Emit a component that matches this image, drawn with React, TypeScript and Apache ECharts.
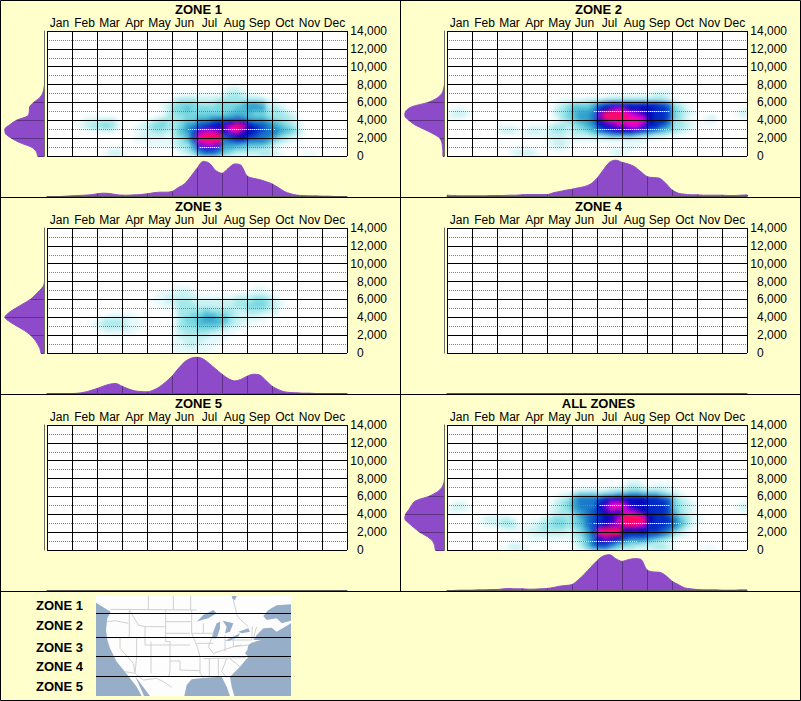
import React, { useEffect, useRef } from "react";
import * as echarts from "echarts";

const months = ["Jan", "Feb", "Mar", "Apr", "May", "Jun", "Jul", "Aug", "Sep", "Oct", "Nov", "Dec"];

// Density: one string per 500 ft row (8000 ft at the top, 0 at the bottom),
// four cells per month per group, hex level 0..f.
const zone1Heat = [
  "0000 0000 0000 0000 0000 0000 0000 0110 0000 0000 0000 0000",
  "0000 0000 0000 0000 0000 0000 0000 1221 0000 0000 0000 0000",
  "0000 0000 0000 0000 0000 0111 1111 2332 1100 0000 0000 0000",
  "0000 0000 0000 0000 0000 2333 2223 3333 3331 1000 0000 0000",
  "0000 0000 0000 0000 0012 3444 3334 4445 6652 2100 0000 0000",
  "0000 0000 0000 0000 0012 4454 4444 4455 6663 3210 0000 0000",
  "0000 0000 0000 0000 0002 3444 4444 4555 5443 3321 0000 0000",
  "0000 0011 1110 0000 0123 3344 5566 6676 5554 3332 0000 0000",
  "0000 0122 3331 0001 2343 3455 7789 9acb 8776 5432 1000 0000",
  "0000 0123 3431 0012 3443 3467 89aa cefe a987 6543 1000 0000",
  "0000 0000 1110 0011 2332 3568 cddc bdeb a987 7654 2000 0000",
  "0000 0000 0000 0012 2221 3458 efff 89ba 9877 6432 1000 0000",
  "0000 0000 0000 0011 1111 2358 efff 7899 7776 4321 0000 0000",
  "0000 0000 0000 0000 1111 2336 cddc 6665 5554 2100 0000 0000",
  "0000 0000 0011 0000 0000 1235 8998 5544 3322 1000 0000 0000",
  "0000 0000 0122 1000 0000 0123 6776 4322 2233 2100 0110 0000",
];
const zone2Heat = [
  "0000 0000 0000 0000 0000 0000 0000 0000 0000 0000 0000 0000",
  "0000 0000 0000 0000 0000 0000 0000 0000 0111 0000 0000 0000",
  "0000 0000 0000 0000 0000 0000 0011 1111 1221 0000 0000 0000",
  "0000 0000 0000 0000 0011 1122 2333 3333 3332 1000 0000 0000",
  "0000 0000 0000 0000 0123 4445 7899 9999 9987 3210 0000 0000",
  "0110 0000 0000 0000 0234 5556 9acd caba a998 4310 0000 0001",
  "1221 0000 0000 0000 0234 5667 cfff edcb a998 4321 0000 0012",
  "1110 0000 0000 0000 0134 5667 cfff feed a998 4310 0120 0001",
  "0000 0000 0000 0000 0123 4567 acde eeed a997 3321 0110 0000",
  "0000 0000 1110 0111 2332 3456 9abc cddb 9976 3321 0000 0000",
  "0000 0000 1221 1221 2332 3345 789a aa98 7654 3210 0000 0000",
  "0000 0000 0000 1111 2221 2223 3455 5543 3221 1000 0000 0000",
  "0000 0000 0000 0000 1221 1111 1111 1111 0000 0000 0000 0000",
  "0000 0000 0000 0000 1221 0000 0000 1110 0000 0000 0000 0000",
  "0000 0000 0011 1100 0110 0000 0011 1100 0000 0000 0000 0000",
  "0000 0000 0012 2210 0000 0000 0012 1000 0000 0000 0000 0000",
];
const zone3Heat = [
  "0000 0000 0000 0000 0000 0000 0000 0000 0000 0000 0000 0000",
  "0000 0000 0000 0000 0000 1110 0000 0000 0110 0000 0000 0000",
  "0000 0000 0000 0000 0011 1221 0000 0000 1111 0000 0000 0000",
  "0000 0000 0000 0000 0112 2222 1111 1122 2332 1000 0000 0000",
  "0000 0000 0000 0000 0112 2332 2222 2233 3443 2100 0000 0000",
  "0000 0000 0000 0000 0011 2333 2222 2233 4443 2100 0000 0000",
  "0000 0000 0000 0000 0000 1333 3433 3322 3332 2000 0000 0000",
  "0000 0000 0011 1100 0000 1334 4554 4321 2211 1000 0000 0000",
  "0000 0000 1222 2110 0000 1344 5665 5322 1110 0000 0000 0000",
  "0000 0001 2333 2110 0000 1344 5555 4321 1000 0000 0000 0000",
  "0000 0000 1222 2110 0000 1333 4443 2110 0000 0000 0000 0000",
  "0000 0000 0111 1100 0000 1233 3322 1100 0000 0000 0000 0000",
  "0000 0000 0000 0000 0000 1222 2211 1000 0000 0000 0000 0000",
  "0000 0000 0000 0000 0000 1122 2111 0000 0000 0000 0000 0000",
  "0000 0000 0000 0000 0000 1122 1110 0000 0000 0000 0000 0000",
  "0000 0000 0000 0000 0000 1111 1100 0000 0000 0000 0000 0000",
];
const allHeat = [
  "0000 0000 0000 0000 0000 0000 0000 0110 0000 0000 0000 0000",
  "0000 0000 0000 0000 0000 0000 0000 1221 0111 0000 0000 0000",
  "0000 0000 0000 0000 0000 0111 1122 2332 2221 1000 0000 0000",
  "0000 0000 0000 0000 0011 3444 3445 5665 5543 2100 0000 0000",
  "0000 0000 0000 0000 0123 6777 89aa aaaa 9987 4210 0000 0000",
  "0110 0000 0000 0000 0234 6777 9bdd caaa 9998 4321 0000 0001",
  "1221 0000 0000 0000 1234 6777 acee dbaa 9998 4321 0000 0012",
  "1100 0000 0000 0000 1233 5678 9bcb ddca 9998 5321 0000 0001",
  "0000 0011 1100 0001 2333 4678 9abc fffd a998 6431 1000 0000",
  "0000 0122 2320 0112 3443 4578 9abe ffff a999 7531 1000 0000",
  "0000 0011 2331 1123 3443 4578 9bcc efed 9998 7531 0000 0000",
  "0000 0000 0111 1223 3332 3468 efff bbba 9987 5310 0000 0000",
  "0000 0000 0000 1122 2221 3468 efff 9999 8876 3210 0000 0000",
  "0000 0000 0000 0111 1111 2357 bcba 8777 6543 1000 0000 0000",
  "0000 0000 0011 0000 0000 1358 9986 5443 3221 0000 0000 0000",
  "0000 0000 0122 1000 0000 1246 7754 3322 2332 1000 0110 0000",
];

// Month profile, four samples per month, Jan 1 .. Dec 31.
const zone1Month = [0,0,0,1,2,3,4,5,8,10,9,6,4,4,5,6,8,11,13,13,15,27,38,60,85,106,100,78,70,85,98,95,62,55,51,45,38,27,15,8,4,3,2,2,1,1,0,0,0];
const zone2Month = [4,3,2,2,2,2,2,3,3,3,4,4,5,6,6,6,6,11,15,19,22,26,30,38,55,80,103,110,103,98,90,75,60,57,55,40,20,10,7,5,5,4,4,4,4,3,3,4,5];
const zone3Month = [0,0,0,0,0,1,4,9,15,22,28,30,22,14,8,6,5,10,20,35,52,75,95,106,110,104,90,74,58,45,38,42,52,58,56,40,22,12,5,3,2,1,1,0,0,0,0,0,0];
const allMonth = [0,0,1,1,1,2,2,3,3,5,6,5,5,4,4,5,6,9,13,15,18,32,50,70,90,104,108,96,88,93,96,94,62,56,55,45,28,18,8,5,3,2,2,2,1,1,1,2,2];

// Altitude profile, one sample per 500 ft from 0 up to 8000 ft.
const zone1Alt = [21,25,40,75,100,118,120,105,85,50,46,45,33,15,6,2,0];
const zone2Alt = [5,5,6,8,14,35,62,90,108,120,118,100,50,22,8,3,0];
const zone3Alt = [11,14,21,30,42,60,83,105,120,108,88,65,43,28,15,3,0];
const allAlt = [28,30,36,52,75,92,108,120,118,108,100,88,48,22,8,2,0];

// Runs of the dotted altitude lines that read white over dark cells: [first cell, last cell, altitude].
const zone1Bright = [[24, 27, 1000], [22, 36, 3000]];
const zone2Bright = [[23, 35, 3000], [23, 35, 5000]];
const zone3Bright: number[][] = [];
const allBright = [[21, 30, 1000], [23, 37, 3000], [24, 35, 5000]];

const zoneKeyLabels = ["ZONE 1", "ZONE 2", "ZONE 3", "ZONE 4", "ZONE 5"];

const HEAT_COLORS = ["#ffffff", "#e6f9fa", "#c8f1f2", "#a2e8ea", "#78d8e0", "#50bcd4", "#30a0cc", "#1878c8", "#0a50c8", "#0028c4", "#0008bc", "#2800c0", "#8000d8", "#d000e0", "#ff00b0", "#ff0860"];
const FONT = "Liberation Sans";
const BG = "#ffffcc";
const PURPLE = "#8e4bc9";
const PURPLE_DARK = "#5c3284";

const PANELS = [
  { title: "ZONE 1", heat: zone1Heat, month: zone1Month, alt: zone1Alt, bright: zone1Bright },
  { title: "ZONE 2", heat: zone2Heat, month: zone2Month, alt: zone2Alt, bright: zone2Bright },
  { title: "ZONE 3", heat: zone3Heat, month: zone3Month, alt: zone3Alt, bright: zone3Bright },
  { title: "ZONE 4", heat: [] as string[], month: [] as number[], alt: [] as number[], bright: [] as number[][] },
  { title: "ZONE 5", heat: [] as string[], month: [] as number[], alt: [] as number[], bright: [] as number[][] },
  { title: "ALL ZONES", heat: allHeat, month: allMonth, alt: allAlt, bright: allBright },
];
const panelX = (i: number) => (i % 2) * 400;
const panelY = (i: number) => Math.floor(i / 2) * 197;

// Reference map, drawn in the coordinates of a 3x picture of the strip below the panels.
const mx = (p: number[]) => [p[0] / 3, p[1] / 3 + 590];
const LAND = [[288,18],[873,18],[873,43],[830,46],[805,60],[790,78],[800,90],[830,85],[845,100],[873,92],[873,100],[830,125],[815,113],[790,115],[770,135],[760,150],[782,150],[755,158],[745,165],[742,180],[735,190],[745,200],[720,230],[690,260],[695,290],[703,318],[690,318],[680,290],[665,260],[640,262],[600,265],[575,268],[560,285],[553,318],[450,318],[405,258],[432,318],[425,318],[410,290],[385,258],[375,245],[350,215],[330,175],[322,150],[318,120],[322,85],[332,65],[310,52],[288,38]];
const LAKES = [
  [[590,95],[610,75],[640,60],[650,70],[625,85],[605,90]],
  [[640,125],[635,145],[650,145],[660,115],[660,95],[650,100]],
  [[668,92],[700,100],[690,125],[675,130],[680,110]],
  [[675,152],[700,140],[720,130],[715,140],[690,152]],
  [[715,125],[745,115],[750,125],[725,130]],
  [[695,18],[710,18],[705,30],[698,28]],
];
const BORDERS = [
  [[332,58],[590,60]],
  [[445,18],[445,58]], [[520,18],[520,58]], [[572,18],[572,60]], [[700,30],[712,80],[745,110]],
  [[322,95],[345,92],[385,100]], [[388,60],[388,100],[388,143]], [[388,60],[400,80],[415,105],[435,110]],
  [[497,60],[497,125]], [[435,110],[497,110]], [[435,110],[435,165]], [[435,165],[510,165]], [[497,125],[497,155],[510,155]],
  [[497,95],[575,95]], [[497,130],[570,130]],
  [[322,143],[435,143]], [[360,143],[360,175],[400,220],[405,248]], [[410,143],[410,200],[405,248]],
  [[453,155],[453,250]], [[410,200],[510,200]], [[510,155],[510,240],[507,258]],
  [[510,200],[590,200]], [[510,213],[540,213],[540,240],[600,242]], [[570,165],[510,165]],
  [[375,245],[405,250],[430,270],[470,265],[490,275],[515,292]],
  [[575,60],[575,130],[590,165],[600,200],[600,250],[612,265]],
  [[575,130],[610,130]], [[590,160],[640,160]], [[610,100],[610,130],[640,130]], [[640,130],[625,170],[640,190]],
  [[675,135],[675,185]], [[700,135],[700,170]], [[640,190],[670,180],[700,170],[725,165]],
  [[610,206],[738,203]], [[628,206],[628,265]], [[655,206],[655,262]], [[680,206],[665,245],[680,262]],
  [[695,150],[755,150]], [[700,170],[745,165]], [[690,206],[720,230]], [[770,110],[760,145]], [[755,150],[757,110]],
];
const ZONE_LINES = [613.5, 637.5, 656.5, 676.5];
const KEY_Y = [605, 625, 647, 666, 686];

const PLOT_CLIP = PANELS.map((_, i) => `M${panelX(i) + 47} ${panelY(i) + 31}h300v125h-300z`).join(" ");

function heatCells(rows: string[]) {
  const cells: number[][] = [];
  rows.forEach((row, i) => {
    const r = rows.length - 1 - i;
    row.replace(/ /g, "").split("").forEach((ch, c) => {
      const v = parseInt(ch, 16);
      if (v > 0) cells.push([c, r, v]);
    });
  });
  return cells;
}

const cellIds = Array.from({ length: 48 }, (_, i) => String(i));
const rowIds = Array.from({ length: 28 }, (_, i) => String(i * 500));
const sampleIds = Array.from({ length: 49 }, (_, i) => String(i));
const altIds = Array.from({ length: 29 }, (_, i) => String(i * 500));

// The density cells live in their own chart so that they alone can be softened.
function buildHeatOption() {
  const grid: any[] = [], xAxis: any[] = [], yAxis: any[] = [], series: any[] = [];
  PANELS.forEach((p, idx) => {
    grid.push({ left: panelX(idx) + 47, top: panelY(idx) + 31, width: 300, height: 125 });
    xAxis.push({ type: "category", gridIndex: idx, show: false, data: cellIds });
    yAxis.push({ type: "category", gridIndex: idx, show: false, data: rowIds });
    series.push({ type: "heatmap", xAxisIndex: idx, yAxisIndex: idx, data: heatCells(p.heat), silent: true, emphasis: { disabled: true }, progressive: 0 });
  });
  return {
    animation: false, grid, xAxis, yAxis, series,
    visualMap: { type: "continuous", show: false, min: 0, max: 15, dimension: 2, seriesIndex: series.map((_, i) => i), inRange: { color: HEAT_COLORS } },
  };
}

function buildOption() {
  const grid: any[] = [], xAxis: any[] = [], yAxis: any[] = [], series: any[] = [], title: any[] = [];

  PANELS.forEach((p, idx) => {
    const ox = panelX(idx);
    const oy = panelY(idx);
    title.push({ text: p.title, left: ox + 198.5, top: oy + 2.5, textAlign: "center", textStyle: { fontFamily: FONT, fontSize: 13, fontWeight: "bold", color: "#000" }, padding: 0 });

    const g = grid.length;
    const x0 = xAxis.length;
    const y0 = yAxis.length;
    grid.push({ left: ox + 47, top: oy + 31, width: 300, height: 125 });
    xAxis.push({ type: "category", gridIndex: g, show: false, position: "bottom", data: cellIds });
    xAxis.push({
      type: "category", gridIndex: g, position: "top", data: months, z: 5,
      axisLine: { show: false }, axisTick: { show: false },
      axisLabel: { interval: 0, margin: 2, fontFamily: FONT, fontSize: 12, color: "#000" },
      splitLine: { show: true, interval: 0, lineStyle: { color: "#000", width: 1 } },
    });
    yAxis.push({
      type: "value", gridIndex: g, position: "right", min: 0, max: 14000, interval: 2000, z: 5,
      axisLine: { show: false }, axisTick: { show: false },
      minorTick: { show: false, splitNumber: 2 },
      minorSplitLine: { show: true, lineStyle: { color: "#808080", width: 1, type: [1, 1] } },
      splitLine: { show: true, lineStyle: { color: "#000", width: 1 } },
      axisLabel: {
        margin: 40, align: "right", fontFamily: FONT, fontSize: 12, color: "#000",
        formatter: (v: number) => (v === 0 ? "{z|0}" : v.toLocaleString("en-US")),
        rich: { z: { width: 30, align: "left", fontFamily: FONT, fontSize: 12, color: "#000" } },
      },
    });

    series.push({
      type: "custom", xAxisIndex: x0, yAxisIndex: y0, z: 4, silent: true, data: p.bright,
      renderItem: (_: any, api: any) => {
        const a = api.coord([api.value(0), api.value(2)]);
        const b = api.coord([api.value(1), api.value(2)]);
        const y = Math.floor(a[1]) + 0.5;
        return { type: "line", shape: { x1: a[0], y1: y, x2: b[0], y2: y }, style: { stroke: "#fff", lineWidth: 1 } };
      },
    });

    // month profile under the plot
    const gm = grid.length;
    grid.push({ left: ox + 47, top: oy + 160, width: 300, height: 36.5 });
    xAxis.push({
      type: "category", gridIndex: gm, data: sampleIds, boundaryGap: false, z: 5,
      axisLine: { show: true, lineStyle: { color: "#5a5a50", width: 1 } }, axisTick: { show: false }, axisLabel: { show: false }, splitLine: { show: false },
    });
    yAxis.push({ type: "value", gridIndex: gm, min: 0, max: 110, show: false, splitLine: { show: false } });
    series.push({ type: "line", xAxisIndex: xAxis.length - 1, yAxisIndex: yAxis.length - 1, data: p.month, showSymbol: false, smooth: 0.3, silent: true, lineStyle: { color: PURPLE, width: 1 }, areaStyle: { color: PURPLE, opacity: 1 }, z: 2 });
    series.push({
      type: "custom", xAxisIndex: xAxis.length - 1, yAxisIndex: yAxis.length - 1, z: 3, silent: true,
      data: p.month.map((v, i) => [i, v]).filter((d) => d[0] % 4 === 0 && d[1] > 3),
      renderItem: (_: any, api: any) => {
        const a = api.coord([api.value(0), 0]);
        const b = api.coord([api.value(0), api.value(1)]);
        const x = Math.round(a[0]) + 0.5;
        return { type: "line", shape: { x1: x, y1: a[1], x2: x, y2: b[1] }, style: { stroke: PURPLE_DARK, lineWidth: 1 } };
      },
    });

    // altitude profile left of the plot
    const ga = grid.length;
    grid.push({ left: ox + 4.5, top: oy + 31, width: 40, height: 125 });
    xAxis.push({ type: "value", gridIndex: ga, min: 0, max: 121, inverse: true, show: false, splitLine: { show: false } });
    yAxis.push({
      type: "category", gridIndex: ga, data: altIds, boundaryGap: false, position: "right", z: 5,
      axisLine: { show: true, onZero: false, lineStyle: { color: "#6e6e60", width: 1 } }, axisTick: { show: false }, axisLabel: { show: false }, splitLine: { show: false },
    });
    series.push({ type: "line", xAxisIndex: xAxis.length - 1, yAxisIndex: yAxis.length - 1, data: p.alt.map((v, i) => [v, i]), showSymbol: false, smooth: 0.3, silent: true, lineStyle: { color: PURPLE, width: 1 }, areaStyle: { color: PURPLE, opacity: 1 }, z: 2 });
    series.push({
      type: "custom", xAxisIndex: xAxis.length - 1, yAxisIndex: yAxis.length - 1, z: 3, silent: true,
      data: p.alt.map((v, i) => [v, i]).filter((d) => d[1] % 4 === 0 && d[0] > 3),
      renderItem: (_: any, api: any) => {
        const a = api.coord([0, api.value(1)]);
        const b = api.coord([api.value(0), api.value(1)]);
        const y = Math.round(a[1] - 0.5) + 0.5;
        return { type: "line", shape: { x1: a[0], y1: y, x2: b[0], y2: y }, style: { stroke: PURPLE_DARK, lineWidth: 1 } };
      },
    });
  });

  const line = (x1: number, y1: number, x2: number, y2: number) => ({ type: "line", shape: { x1, y1, x2, y2 }, style: { stroke: "#000", lineWidth: 1 }, silent: true, z: 10 });
  const graphic: any[] = [
    { type: "rect", shape: { x: 0.5, y: 0.5, width: 800, height: 700 }, style: { fill: "none", stroke: "#000", lineWidth: 1 }, silent: true, z: 10 },
    line(400.5, 0, 400.5, 591), line(0, 197.5, 801, 197.5), line(0, 394.5, 801, 394.5), line(0, 591.5, 801, 591.5),
    { type: "rect", shape: { x: 96, y: 596, width: 195, height: 100 }, style: { fill: "#97aec9" }, silent: true, z: 1 },
    { type: "polygon", shape: { points: LAND.map(mx) }, style: { fill: "#fdfdfd" }, silent: true, z: 2 },
    ...LAKES.map((pts) => ({ type: "polygon", shape: { points: pts.map(mx) }, style: { fill: "#97aec9" }, silent: true, z: 3 })),
    ...BORDERS.map((pts) => ({ type: "polyline", shape: { points: pts.map(mx) }, style: { stroke: "#d0d0d0", lineWidth: 1, fill: "none" }, silent: true, z: 3 })),
    ...ZONE_LINES.map((y) => line(96, y, 291, y)),
    ...zoneKeyLabels.map((text, i) => ({
      type: "text", x: 83, y: KEY_Y[i], silent: true, z: 10,
      style: { text, fontFamily: FONT, fontSize: 13, fontWeight: "bold", fill: "#000", textAlign: "right", textVerticalAlign: "middle" },
    })),
  ];

  return { animation: false, title, grid, xAxis, yAxis, series, graphic };
}

const layer: React.CSSProperties = { position: "absolute", left: 0, top: 0, width: 801, height: 701 };

export default function App() {
  const mainRef = useRef<HTMLDivElement>(null);
  const heatRef = useRef<HTMLDivElement>(null);
  useEffect(() => {
    document.body.style.margin = "0";
    const main = echarts.init(mainRef.current!, null, { renderer: "svg" });
    const heat = echarts.init(heatRef.current!, null, { renderer: "svg" });
    main.setOption(buildOption() as any);
    heat.setOption(buildHeatOption() as any);
    return () => {
      main.dispose();
      heat.dispose();
    };
  }, []);
  return (
    <div style={{ position: "relative", width: 801, height: 701, background: BG, overflow: "hidden" }}>
      <div ref={mainRef} style={{ ...layer, zIndex: 2 }} />
      <div style={{ ...layer, zIndex: 1, background: "#fff", clipPath: `path('${PLOT_CLIP}')` }}>
        <div ref={heatRef} style={{ ...layer, filter: "blur(2px)" }} />
      </div>
    </div>
  );
}
